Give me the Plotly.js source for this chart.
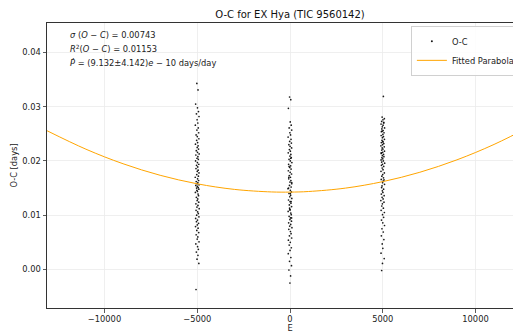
<!DOCTYPE html>
<html>
<head>
<meta charset="utf-8">
<script src="https://cdn.plot.ly/plotly-3.0.1.min.js"></script>
<style>
html, body { margin: 0; padding: 0; overflow: hidden; background: #fff; }
#chart { width: 560px; height: 333px; }
</style>
</head>
<body>
<div id="chart"></div>
<script>
// ---- Data ----
const ocE1 = [-5023, -4959, -5087, -4988, -4934, -5045, -4906, -5008, -4970, -5102,
  -4945, -5019, -4923, -5061, -4997, -4912, -5034, -4980, -5095, -4953,
  -5003, -4930, -5052, -4985, -4899, -5074, -4964, -5014, -4941, -5090,
  -4992, -4917, -5040, -4975, -5067, -4951, -5001, -4908, -5028, -4937,
  -5108, -4982, -4926, -5056, -4966, -5011, -4903, -5080, -4995, -4948,
  -5037, -4914, -5022, -4990, -5099, -4956, -4932, -5048, -4973, -5006,
  -4919, -5071, -4961, -5017, -4896, -5063, -4978, -4942, -5031, -4910,
  -5085, -4986, -5043, -4928, -4999, -5093, -4954, -5026, -4921, -5058,
  -4969, -5004, -4905, -5076, -4983, -4939, -5050, -4962, -5013, -4915,
  -5066];
const ocY1 = [0.0343, 0.0331, 0.0305, 0.0298, 0.0291, 0.0287, 0.0282, 0.0276, 0.0270, 0.0266,
  0.0261, 0.0257, 0.0252, 0.0248, 0.0245, 0.0241, 0.0238, 0.0234, 0.0231, 0.0228,
  0.0225, 0.0222, 0.0219, 0.0216, 0.0213, 0.0211, 0.0208, 0.0205, 0.0203, 0.0200,
  0.0197, 0.0194, 0.0192, 0.0189, 0.0186, 0.0183, 0.0181, 0.0178, 0.0175, 0.0172,
  0.0170, 0.0167, 0.0164, 0.0162, 0.0160, 0.0158, 0.0156, 0.0155, 0.0153, 0.0151,
  0.0150, 0.0148, 0.0146, 0.0144, 0.0142, 0.0139, 0.0136, 0.0133, 0.0130, 0.0127,
  0.0124, 0.0121, 0.0118, 0.0115, 0.0112, 0.0109, 0.0106, 0.0103, 0.0100, 0.0097,
  0.0094, 0.0091, 0.0088, 0.0085, 0.0082, 0.0079, 0.0076, 0.0072, 0.0068, 0.0064,
  0.0060, 0.0056, 0.0051, 0.0047, 0.0042, 0.0037, 0.0032, 0.0026, 0.0019, 0.0011,
  -0.0037];

const ocE2 = [-23, 41, -87, 12, 66, -45, 94, -8, 30, -102,
  55, -19, 77, -61, 3, 88, -34, 20, -95, 47,
  -3, 70, -52, 15, 101, -74, 36, -14, 59, -90,
  8, 83, -40, 25, -67, 49, -1, 92, -28, 63,
  -108, 18, 74, -56, 34, -11, 97, -80, 5, 52,
  -37, 86, -22, 10, -99, 44, 68, -48, 27, -6,
  81, -71, 39, -17, 104, -63, 22, 58, -31, 90,
  -85, 14, -43, 72, 1, -93, 46, -26, 79, -58,
  31, -4, 95, -76, 17, 61, -50, 38, -13, 85,
  -66];
const ocY2 = [0.0318, 0.0313, 0.0297, 0.0272, 0.0266, 0.0261, 0.0257, 0.0252, 0.0248, 0.0244,
  0.0240, 0.0236, 0.0233, 0.0230, 0.0227, 0.0224, 0.0221, 0.0218, 0.0215, 0.0212,
  0.0209, 0.0206, 0.0203, 0.0200, 0.0197, 0.0194, 0.0191, 0.0188, 0.0185, 0.0182,
  0.0179, 0.0176, 0.0173, 0.0170, 0.0167, 0.0164, 0.0161, 0.0158, 0.0155, 0.0152,
  0.0149, 0.0146, 0.0143, 0.0140, 0.0137, 0.0134, 0.0131, 0.0128, 0.0125, 0.0122,
  0.0119, 0.0116, 0.0113, 0.0110, 0.0107, 0.0104, 0.0101, 0.0098, 0.0095, 0.0092,
  0.0089, 0.0086, 0.0083, 0.0080, 0.0077, 0.0074, 0.0070, 0.0066, 0.0062, 0.0058,
  0.0054, 0.0050, 0.0045, 0.0040, 0.0035, 0.0029, 0.0022, 0.0015, 0.0007, -0.0001,
  -0.0012, -0.0025, 0.0160, 0.0150, 0.0140, 0.0125, 0.0190, 0.0205, 0.0110, 0.0095,
  0.0170];

const ocE3 = [5034, 4966, 5087, 5012, 4943, 5055, 4909, 5018, 4975, 5098,
  4952, 5021, 4928, 5068, 5007, 4915, 5039, 4983, 5091, 4958,
  5006, 4925, 5057, 4989, 4902, 5079, 4968, 5011, 4946, 5093,
  4995, 4920, 5044, 4979, 5063, 4954, 5002, 4911, 5031, 4940,
  5104, 4985, 4929, 5052, 4970, 5015, 4906, 5085, 4998, 4951,
  5041, 4917, 5026, 4993, 5096, 4960, 4937, 5046, 4977, 5009,
  4922, 5074, 4964, 5020, 4898, 5067, 4981, 4945, 5035, 4913,
  5088, 4990, 5047, 4931, 5003, 5095, 4957, 5029, 4924, 5061,
  4972, 5005, 4908, 5078, 4986, 4942, 5053, 4965, 5016, 4918,
  5069];
const ocY3 = [0.0319, 0.0281, 0.0278, 0.0276, 0.0273, 0.0271, 0.0268, 0.0266, 0.0263, 0.0261,
  0.0259, 0.0256, 0.0254, 0.0252, 0.0249, 0.0247, 0.0245, 0.0243, 0.0240, 0.0238,
  0.0236, 0.0234, 0.0232, 0.0230, 0.0228, 0.0226, 0.0224, 0.0222, 0.0220, 0.0218,
  0.0216, 0.0214, 0.0212, 0.0210, 0.0208, 0.0206, 0.0204, 0.0202, 0.0200, 0.0198,
  0.0196, 0.0194, 0.0192, 0.0190, 0.0187, 0.0184, 0.0181, 0.0178, 0.0175, 0.0172,
  0.0169, 0.0166, 0.0163, 0.0160, 0.0157, 0.0154, 0.0151, 0.0148, 0.0145, 0.0142,
  0.0139, 0.0136, 0.0133, 0.0130, 0.0127, 0.0124, 0.0121, 0.0117, 0.0113, 0.0109,
  0.0105, 0.0101, 0.0096, 0.0091, 0.0086, 0.0081, 0.0075, 0.0069, 0.0062, 0.0055,
  0.0047, 0.0039, 0.0030, 0.0020, 0.0011, -0.0002, 0.0270, 0.0255, 0.0235, 0.0215,
  0.0165];

// Fitted parabola, sampled from the reference curve
const fitE = [-13100, -11000, -9000, -7000, -5000, -3000, -1000, 0, 1000, 3000, 5000, 7000, 9000, 11000, 13100];
const fitY = [0.02558, 0.02217, 0.01949, 0.01736, 0.01579, 0.01476, 0.01429, 0.01426, 0.01437, 0.01500, 0.01619, 0.01792, 0.02021, 0.02305, 0.02663];

const statLines = [
  "<i>σ</i> (<i>O</i> − <i>C</i>) = 0.00743",
  "<i>R</i><sup>2</sup>(<i>O</i> − <i>C</i>) = 0.01153",
  "<i>P\u0307</i> = (9.132±4.142)<i>e</i> − 10 days/day"
];

const xTicks = [-10000, -5000, 0, 5000, 10000];
const yTicks = [0.00, 0.01, 0.02, 0.03, 0.04];

// ---- Plot ----
const FONT = "DejaVu Sans, sans-serif";
const ocX = ocE1.concat(ocE2, ocE3);
const ocYall = ocY1.concat(ocY2, ocY3);

const traces = [
  {
    x: ocX, y: ocYall, type: "scatter", mode: "markers", name: "O-C",
    marker: { color: "#000", size: 1.7, symbol: "circle", opacity: 0.9, line: { width: 0 } }
  },
  {
    x: fitE, y: fitY, type: "scatter", mode: "lines", name: "Fitted Parabola",
    line: { color: "#FFA500", width: 1, shape: "spline" }
  }
];

const plotTop = 23.3, plotBottom = 307.7;
const ph = plotBottom - plotTop;
const annY = [35, 49, 63];

const layout = {
  width: 560, height: 333,
  margin: { l: 47, r: 27, t: 23, b: 25 },
  paper_bgcolor: "#fff", plot_bgcolor: "#fff",
  font: { family: FONT, size: 8.3, color: "#222" },
  title: { text: "O-C for EX Hya (TIC 9560142)", font: { family: FONT, size: 10, color: "#111" },
           x: 0.5, xanchor: "center", xref: "paper", y: 1 - 14 / 333, yanchor: "middle" },
  xaxis: {
    range: [-13100, 13100], tickvals: xTicks, ticktext: xTicks.map(v => v < 0 ? "\u2212" + Math.abs(v) : String(v)),
    showgrid: true, gridcolor: "#ebebeb", gridwidth: 0.8, zeroline: false,
    showline: true, mirror: true, linecolor: "#333", linewidth: 1,
    ticks: "outside", ticklen: 3.5, tickcolor: "#333", tickwidth: 0.8,
    tickfont: { family: FONT, size: 8.3, color: "#222" },
    title: { text: "E", font: { family: FONT, size: 8.3, color: "#222" }, standoff: 0 },
    automargin: false
  },
  yaxis: {
    range: [-0.00711, 0.04544], tickvals: yTicks, ticktext: yTicks.map(v => v.toFixed(2)),
    showgrid: true, gridcolor: "#ebebeb", gridwidth: 0.8, zeroline: false,
    showline: true, mirror: true, linecolor: "#333", linewidth: 1,
    ticks: "outside", ticklen: 3.5, tickcolor: "#333", tickwidth: 0.8,
    tickfont: { family: FONT, size: 8.3, color: "#222" },
    title: { text: "O-C [days]", font: { family: FONT, size: 8.3, color: "#222" }, standoff: 3 },
    automargin: false
  },
  showlegend: true,
  legend: {
    x: 0.973, xanchor: "right", y: 0.99, yanchor: "top",
    bgcolor: "rgba(255,255,255,0.85)", bordercolor: "#d0d0d0", borderwidth: 1,
    font: { family: FONT, size: 8.3, color: "#222" }, itemwidth: 30, tracegroupgap: 0
  },
  annotations: statLines.map((t, i) => ({
    text: t, xref: "paper", yref: "paper", x: 0.044, y: (plotBottom - annY[i]) / ph,
    xanchor: "left", yanchor: "middle", showarrow: false, align: "left",
    font: { family: FONT, size: 8.3, color: "#222" }
  }))
};

Plotly.newPlot("chart", traces, layout, { displayModeBar: false, staticPlot: true });
</script>
</body>
</html>
